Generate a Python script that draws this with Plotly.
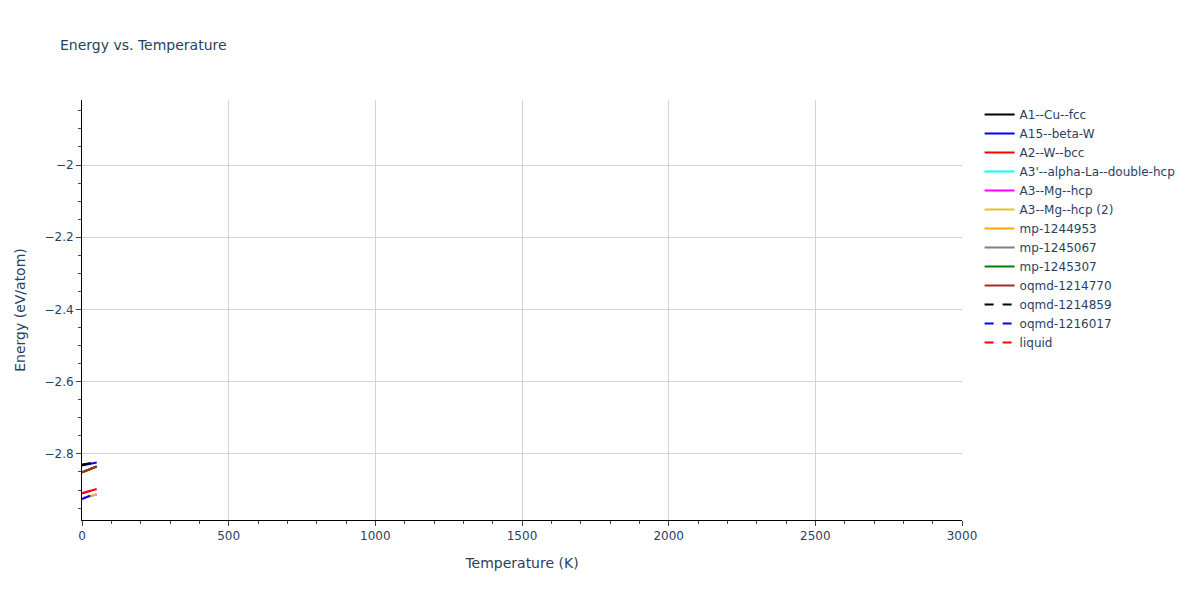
import plotly.graph_objects as go

temps = [0, 10, 20, 30, 40, 50]
temps_short = [0, 10, 20, 30]

a1_cu_fcc = [-2.8300, -2.8287, -2.8273, -2.8260]
a15_beta_w = [-2.8320, -2.8304, -2.8288, -2.8272, -2.8256, -2.8240]
a2_w_bcc = [-2.9090, -2.9066, -2.9042, -2.9018, -2.8994, -2.8970]
a3p_alpha_la = [-2.9230, -2.9208, -2.9186, -2.9164, -2.9142, -2.9120]
a3_mg_hcp = [-2.9230, -2.9208, -2.9186, -2.9164, -2.9142, -2.9120]
a3_mg_hcp_2 = [-2.9230, -2.9208, -2.9186, -2.9164, -2.9142, -2.9120]
mp_1244953 = [-2.8510, -2.8478, -2.8446, -2.8414, -2.8382, -2.8350]
mp_1245067 = [-2.8510, -2.8478, -2.8446, -2.8414, -2.8382, -2.8350]
mp_1245307 = [-2.8510, -2.8478, -2.8446, -2.8414, -2.8382, -2.8350]
oqmd_1214770 = [-2.8510, -2.8478, -2.8446, -2.8414, -2.8382, -2.8350]
oqmd_1214859 = [-2.8300, -2.8287, -2.8273, -2.8260]
oqmd_1216017 = [-2.9250, -2.9217, -2.9183, -2.9150]
liquid = [-2.9090, -2.9066, -2.9042, -2.9018, -2.8994, -2.8970]

series = [
    ("A1--Cu--fcc", temps_short, a1_cu_fcc, "black", "solid"),
    ("A15--beta-W", temps, a15_beta_w, "blue", "solid"),
    ("A2--W--bcc", temps, a2_w_bcc, "red", "solid"),
    ("A3'--alpha-La--double-hcp", temps, a3p_alpha_la, "cyan", "solid"),
    ("A3--Mg--hcp", temps, a3_mg_hcp, "magenta", "solid"),
    ("A3--Mg--hcp (2)", temps, a3_mg_hcp_2, "#e6c229", "solid"),
    ("mp-1244953", temps, mp_1244953, "orange", "solid"),
    ("mp-1245067", temps, mp_1245067, "gray", "solid"),
    ("mp-1245307", temps, mp_1245307, "green", "solid"),
    ("oqmd-1214770", temps, oqmd_1214770, "brown", "solid"),
    ("oqmd-1214859", temps_short, oqmd_1214859, "black", "dash"),
    ("oqmd-1216017", temps_short, oqmd_1216017, "blue", "dash"),
    ("liquid", temps, liquid, "red", "dash"),
]

fig = go.Figure()
# draw order: later traces sit on top, so dashed ones cover the solid ones
for name, x, y, color, dash in series:
    fig.add_trace(go.Scatter(
        x=x, y=y, mode="lines", name=name,
        line=dict(color=color, dash=dash, width=2),
    ))

fig.update_layout(
    title=dict(text="Energy vs. Temperature", x=0.0433, y=0.947,
               font=dict(size=14)),
    font=dict(family="Verdana, DejaVu Sans", size=12, color="#2a3f5f"),
    plot_bgcolor="white",
    paper_bgcolor="white",
    width=1200,
    height=600,
    margin=dict(l=72, r=246, t=92, b=88),
    legend=dict(x=1.02, y=1),
    xaxis=dict(
        title="Temperature (K)", range=[0, 3000], dtick=500,
        showline=True, linecolor="black", ticks="outside",
        gridcolor="lightgray",
        minor=dict(ticks="outside", dtick=100, showgrid=False),
        zeroline=False,
    ),
    yaxis=dict(
        title="Energy (eV/atom)", range=[-2.983, -1.82], dtick=0.2,
        showline=True, linecolor="black", ticks="outside",
        gridcolor="lightgray",
        minor=dict(ticks="outside", dtick=0.05, showgrid=False),
        zeroline=False,
    ),
)

fig.write_html("out.html")
